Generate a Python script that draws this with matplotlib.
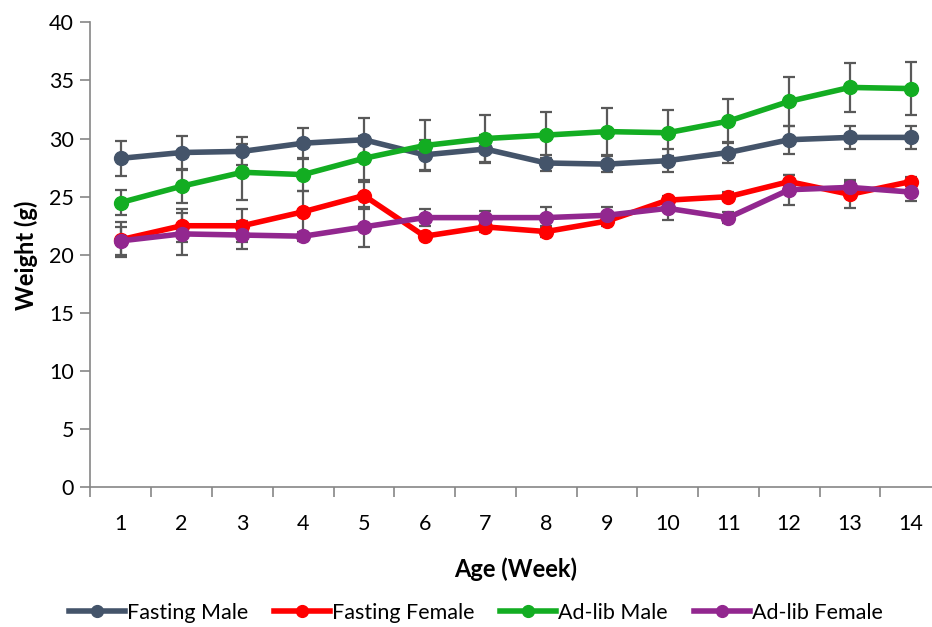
import numpy as np
import matplotlib
matplotlib.use('Agg')
from matplotlib import pyplot as plt

plt.rcParams['font.family'] = ['Lato', 'DejaVu Sans']

# Dados
semanas = list(range(1, 15))

jejum_macho = [28.3, 28.8, 28.9, 29.6, 29.9, 28.6, 29.1, 27.9, 27.8, 28.1, 28.8, 29.9, 30.1, 30.1]
jejum_macho_err = [1.5, 1.45, 1.2, 1.35, 1.9, 1.3, 1.2, 0.65, 0.7, 1.0, 0.9, 1.2, 1.0, 1.0]

jejum_femea = [21.3, 22.5, 22.5, 23.7, 25.1, 21.6, 22.4, 22.0, 22.9, 24.7, 25.0, 26.3, 25.2, 26.3]
jejum_femea_err = [1.5, 1.4, 1.4, 1.8, 1.2, 0.3, 0.4, 0.5, 0.4, 0.4, 0.4, 0.6, 1.2, 0.4]

adlib_macho = [24.5, 25.9, 27.1, 26.9, 28.3, 29.4, 30.0, 30.3, 30.6, 30.5, 31.5, 33.2, 34.4, 34.3]
adlib_macho_err = [1.1, 1.4, 2.4, 1.4, 1.9, 2.2, 2.0, 2.0, 2.0, 2.0, 1.9, 2.1, 2.1, 2.3]

adlib_femea = [21.2, 21.8, 21.7, 21.6, 22.4, 23.2, 23.2, 23.2, 23.4, 24.0, 23.2, 25.6, 25.8, 25.4]
adlib_femea_err = [1.2, 1.8, 1.2, 0.4, 1.7, 0.75, 0.6, 0.9, 0.7, 1.0, 0.5, 1.3, 0.5, 0.8]

series = [
    ('Fasting Male', jejum_macho, jejum_macho_err, '#44546A'),
    ('Fasting Female', jejum_femea, jejum_femea_err, '#FF0000'),
    ('Ad-lib Male', adlib_macho, adlib_macho_err, '#13AD22'),
    ('Ad-lib Female', adlib_femea, adlib_femea_err, '#92278F'),
]

fig = plt.figure(figsize=(9.32, 6.27), dpi=100)
ax = fig.add_axes([0.0971, 0.2228, 0.9126, 0.7416])

x = np.arange(len(semanas))

# barras de erro primeiro, linhas por cima
for nome, vals, err, cor in series:
    ax.errorbar(x, vals, yerr=err, fmt='none', ecolor='#595959', elinewidth=1.6,
                capsize=4, capthick=1.6, zorder=2)

for nome, vals, err, cor in series:
    ax.plot(x, vals, color=cor, linewidth=4.0, marker='o', markersize=10,
            label=nome, zorder=3)

ax.set_xlim(-0.5, len(semanas) - 0.5)
ax.set_ylim(0, 40)
ax.set_yticks(range(0, 41, 5))
ax.set_xticks(x)
ax.set_xticklabels([str(s) for s in semanas])
ax.set_xticks(np.arange(-0.5, len(semanas), 1), minor=True)

for lado in ['top', 'right']:
    ax.spines[lado].set_visible(False)
for lado in ['left', 'bottom']:
    ax.spines[lado].set_color('#868686')
    ax.spines[lado].set_linewidth(1.2)

ax.tick_params(axis='y', which='major', direction='out', length=7, width=1.2,
               color='#868686', labelsize=15.5, pad=5)
ax.tick_params(axis='x', which='major', length=0, labelsize=15.5, pad=19)
ax.tick_params(axis='x', which='minor', direction='out', length=7, width=1.2,
               color='#868686')

ax.set_xlabel('Age (Week)', fontsize=17, fontweight='bold', labelpad=17)
ax.set_ylabel('Weight (g)', fontsize=17, fontweight='bold', labelpad=8)

ax.legend(loc='center', bbox_to_anchor=(0.453, -0.27), ncol=4, frameon=False,
          fontsize=15.5, handlelength=2.6, handletextpad=0.1, columnspacing=1.2,
          markerscale=0.85, borderaxespad=0)

fig.savefig('out.png', dpi=100)
